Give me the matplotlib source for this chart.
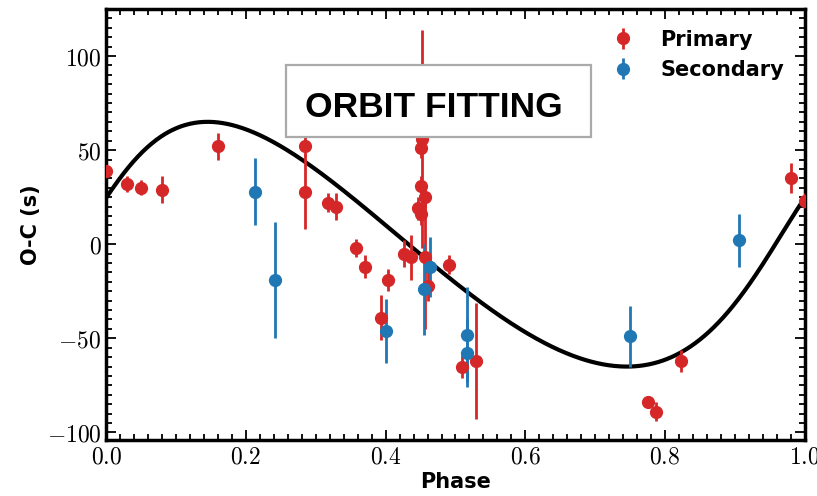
import numpy as np
import matplotlib
matplotlib.use("Agg")
import matplotlib.pyplot as plt
from matplotlib.ticker import FuncFormatter, MultipleLocator
from matplotlib.patches import Rectangle

plt.rcParams['mathtext.fontset'] = 'cm'

# ---- data ----
prim_phase = [0.000, 0.030, 0.050, 0.080, 0.160, 0.285, 0.285, 0.318, 0.329, 0.358,
              0.370, 0.393, 0.404, 0.427, 0.436, 0.446, 0.450, 0.450, 0.452, 0.450,
              0.457, 0.456, 0.461, 0.491, 0.509, 0.529, 0.776, 0.787, 0.823, 0.980, 1.000]
prim_oc = [39, 32, 30, 29, 52, 52, 28, 22, 20, -2,
           -12, -39, -19, -5, -7, 19, 31, 51, 56, 16,
           25, -7, -22, -11, -65, -62, -84, -89, -62, 35, 23]
prim_err = [3, 4, 4, 7, 7, 5, 20, 5, 7, 5,
            6, 12, 6, 7, 12, 6, 5, 5, 58, 6,
            6, 38, 8, 5, 6, 31, 3, 5, 6, 8, 4]

sec_phase = [0.213, 0.242, 0.401, 0.455, 0.464, 0.516, 0.516, 0.750, 0.906]
sec_oc = [28, -19, -46, -24, -12, -48, -58, -49, 2]
sec_err = [18, 31, 17, 24, 16, 25, 18, 16, 14]

# LTTE orbit model parameters
amp = 68.5        # s
ecc = 0.324
omega = 0.237     # rad
phase_peri = 0.985

xticks = [0.0, 0.2, 0.4, 0.6, 0.8, 1.0]
yticks = [-100, -50, 0, 50, 100]


def ltte(phase):
    M = 2 * np.pi * (phase - phase_peri)
    E = M.copy()
    for _ in range(60):
        E = M + ecc * np.sin(E)
    nu = 2 * np.arctan2(np.sqrt(1 + ecc) * np.sin(E / 2), np.sqrt(1 - ecc) * np.cos(E / 2))
    return amp * ((1 - ecc**2) / (1 + ecc * np.cos(nu)) * np.sin(nu + omega) + ecc * np.sin(omega))


fig = plt.figure(figsize=(8.17, 4.96), dpi=100)
ax = fig.add_axes([0.130, 0.113, 0.855, 0.869])

ph = np.linspace(0, 1, 600)
ax.plot(ph, ltte(ph), color='black', lw=3, zorder=3)

ax.errorbar(prim_phase, prim_oc, yerr=prim_err, fmt='o', color='#d62728',
            ms=8.5, elinewidth=2, capsize=0, label='Primary', zorder=4)
ax.errorbar(sec_phase, sec_oc, yerr=sec_err, fmt='o', color='#1f77b4',
            ms=8.5, elinewidth=2, capsize=0, label='Secondary', zorder=4)

ax.set_xlim(0, 1)
ax.set_ylim(-104, 125)
ax.set_xticks(xticks)
ax.set_yticks(yticks)
ax.xaxis.set_minor_locator(MultipleLocator(0.02))
ax.yaxis.set_minor_locator(MultipleLocator(5))
ax.xaxis.set_major_formatter(FuncFormatter(lambda v, p: r'$%.1f$' % v))
ax.yaxis.set_major_formatter(FuncFormatter(lambda v, p: r'$%d$' % v))
ax.tick_params(which='both', direction='in', top=True, right=True, labelsize=17, width=1.3)
ax.tick_params(which='major', length=7)
ax.tick_params(which='minor', length=4)
for s in ax.spines.values():
    s.set_linewidth(2.5)

ax.set_xlabel('Phase', fontsize=15, fontweight='bold', labelpad=2)
ax.set_ylabel('O-C (s)', fontsize=15, fontweight='bold', labelpad=4)

leg = ax.legend(loc='upper right', frameon=False, prop={'weight': 'bold', 'size': 15},
                handletextpad=0.8, borderaxespad=0.6, labelspacing=0.5)

# title box
ax.add_patch(Rectangle((0.257, 0.703), 0.437, 0.166, transform=ax.transAxes,
                       facecolor='white', edgecolor='#aaaaaa', lw=1.6, zorder=9))
ax.text(0.284, 0.749, 'ORBIT FITTING', transform=ax.transAxes, ha='left', va='baseline',
        fontsize=25.5, fontweight='bold', family='Liberation Sans', zorder=10)

fig.savefig('out.png', dpi=100)
